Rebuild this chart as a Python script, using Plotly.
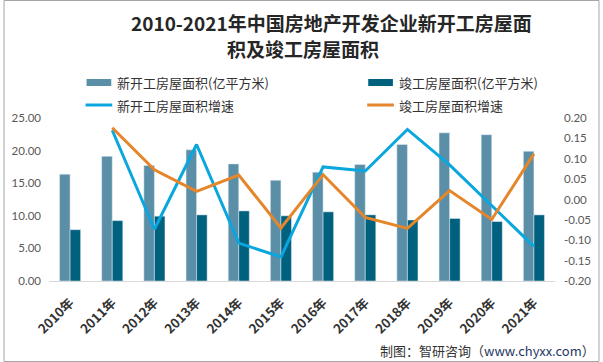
import plotly.graph_objects as go

years = ["2010年", "2011年", "2012年", "2013年", "2014年", "2015年",
         "2016年", "2017年", "2018年", "2019年", "2020年", "2021年"]
new_area = [16.38, 19.12, 17.73, 20.12, 17.96, 15.45, 16.69, 17.87, 20.93, 22.72, 22.44, 19.89]
done_area = [7.87, 9.26, 9.94, 10.14, 10.75, 10.00, 10.61, 10.15, 9.36, 9.59, 9.12, 10.14]
new_growth = [None, 0.170, -0.073, 0.135, -0.107, -0.141, 0.080, 0.070, 0.172, 0.085, -0.014, -0.115]
done_growth = [None, 0.176, 0.073, 0.020, 0.060, -0.070, 0.061, -0.044, -0.071, 0.022, -0.049, 0.112]

left_ticks = [0, 5, 10, 15, 20, 25]
right_ticks = [-0.20, -0.15, -0.10, -0.05, 0.00, 0.05, 0.10, 0.15, 0.20]

names = ["新开工房屋面积(亿平方米)", "竣工房屋面积(亿平方米)", "新开工房屋面积增速", "竣工房屋面积增速"]
c_light, c_dark, c_blue, c_orange = "#5B8FA8", "#00617F", "#0AA6DE", "#E5862B"

W, H = 603, 362
L, R, T, B = 46, 45, 118, 81
pw, ph = W - L - R, H - T - B

def px(x):
    return (x - L) / pw

def py(y):
    return (H - B - y) / ph

fig = go.Figure()
fig.add_trace(go.Bar(x=years, y=new_area, name=names[0], marker_color=c_light, showlegend=False))
fig.add_trace(go.Bar(x=years, y=done_area, name=names[1], marker_color=c_dark, showlegend=False))
fig.add_trace(go.Scatter(x=years, y=new_growth, name=names[2], mode="lines",
                         line=dict(color=c_blue, width=3), yaxis="y2", showlegend=False))
fig.add_trace(go.Scatter(x=years, y=done_growth, name=names[3], mode="lines",
                         line=dict(color=c_orange, width=3), yaxis="y2", showlegend=False))

tickfont = dict(family="Lato, Noto Sans", size=11.5, color="#595959")
fig.update_layout(
    width=W, height=H,
    margin=dict(l=L, r=R, t=T, b=B),
    paper_bgcolor="white", plot_bgcolor="white",
    barmode="group", bargap=0.5, bargroupgap=0,
    xaxis=dict(type="category", tickangle=-45, showgrid=False, showline=True,
               linecolor="#D9D9D9", linewidth=1, ticks="", ticklabelstandoff=8,
               tickfont=dict(family="Noto Sans CJK SC", size=13, color="#333333", weight="bold")),
    yaxis=dict(range=[0, 25], tickvals=left_ticks, ticktext=[f"{v:.2f}" for v in left_ticks],
               showgrid=False, zeroline=False, showline=False, tickfont=tickfont, ticks="",
               ticklabelstandoff=7),
    yaxis2=dict(range=[-0.2, 0.2], overlaying="y", side="right", tickvals=right_ticks,
                ticktext=[f"{v:.2f}" for v in right_ticks],
                showgrid=False, zeroline=False, showline=False, tickfont=tickfont, ticks="",
                ticklabelstandoff=8),
    showlegend=False,
)

title_font = dict(family="Noto Sans CJK SC", size=19, color="#262626", weight="bold")
fig.add_annotation(text="2010-2021年中国房地产开发企业新开工房屋面", xref="paper", yref="paper",
                   x=px(332), y=py(22), xanchor="center", yanchor="middle", showarrow=False,
                   font=title_font)
fig.add_annotation(text="积及竣工房屋面积", xref="paper", yref="paper",
                   x=px(303), y=py(48), xanchor="center", yanchor="middle", showarrow=False,
                   font=title_font)

# legend
leg_font = dict(family="Noto Sans CJK SC", size=13, color="#333333")
fig.add_shape(type="rect", xref="paper", yref="paper", x0=px(84), x1=px(109), y0=py(79), y1=py(86),
              fillcolor=c_light, line_width=0)
fig.add_shape(type="rect", xref="paper", yref="paper", x0=px(369), x1=px(394), y0=py(79), y1=py(86),
              fillcolor=c_dark, line_width=0)
fig.add_shape(type="line", xref="paper", yref="paper", x0=px(83), x1=px(110), y0=py(105), y1=py(105),
              line=dict(color=c_blue, width=3))
fig.add_shape(type="line", xref="paper", yref="paper", x0=px(368), x1=px(395), y0=py(105), y1=py(105),
              line=dict(color=c_orange, width=3))
for txt, x, y in [(names[0], 113, 82), (names[1], 398, 82), (names[2], 113, 105), (names[3], 398, 105)]:
    fig.add_annotation(text=txt, xref="paper", yref="paper", x=px(x), y=py(y), xanchor="left",
                       yanchor="middle", showarrow=False, font=leg_font)

fig.add_annotation(text="制图：智研咨询（<span style='color:#1F3864'>www.chyxx.com</span>）",
                   xref="paper", yref="paper", x=px(600), y=py(350), xanchor="right", yanchor="middle",
                   showarrow=False, font=dict(family="Noto Sans CJK SC", size=13, color="#333333"))

fig.add_shape(type="rect", xref="paper", yref="paper", x0=px(0.5), x1=px(602.5), y0=py(0.5), y1=py(361.5),
              line=dict(color="#A6A6A6", width=1), fillcolor="rgba(0,0,0,0)")

fig.write_html("out.html", config={"displayModeBar": False},
               post_script="document.body.style.margin='0';document.body.style.overflow='hidden';")
